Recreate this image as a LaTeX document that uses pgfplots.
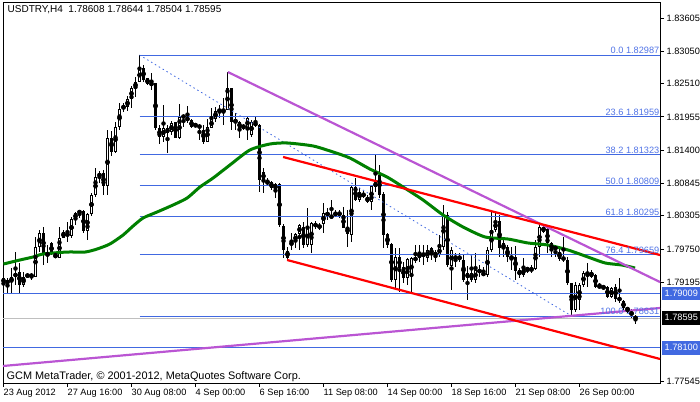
\documentclass[border=0pt]{standalone}
\usepackage{fontspec}
\setmainfont{Liberation Sans}
\usepackage{pgfplots}
\pgfplotsset{compat=1.18}
\usepackage{pgfplotstable}
\definecolor{fibblue}{RGB}{65,105,225}
\definecolor{labblue}{RGB}{80,115,230}
\definecolor{orchid}{RGB}{186,85,211}
\definecolor{magreen}{RGB}{0,128,0}
\newcommand{\lblfont}{\fontsize{9.2bp}{11bp}\selectfont}

\pgfplotstableread{
k o h l c
0 1.79265 1.79332 1.79015 1.79182
1 1.79215 1.79265 1.79015 1.79182
2 1.79198 1.79432 1.79015 1.79282
3 1.79282 1.79699 1.79148 1.79349
4 1.79365 1.79516 1.79015 1.79148
5 1.79148 1.79365 1.79115 1.79282
6 1.79299 1.79349 1.79265 1.79315
7 1.79299 1.79349 1.79232 1.79315
8 1.79282 1.79950 1.79282 1.79783
9 1.79783 1.80066 1.79699 1.80016
10 1.80016 1.80116 1.79482 1.79683
11 1.79666 1.79816 1.79516 1.79649
12 1.79850 1.79866 1.79649 1.79666
13 1.79666 1.79699 1.79599 1.79599
14 1.79599 1.80116 1.79599 1.79933
15 1.79933 1.80066 1.79933 1.80033
16 1.80016 1.80200 1.79866 1.79966
17 1.79966 1.80283 1.79933 1.80250
18 1.80250 1.80367 1.80150 1.80350
19 1.80350 1.80400 1.80267 1.80383
20 1.80383 1.80400 1.80016 1.80050
21 1.80050 1.80350 1.79900 1.80333
22 1.80333 1.80684 1.80300 1.80651
23 1.80651 1.81101 1.80617 1.80951
24 1.80951 1.81051 1.80851 1.81018
25 1.81018 1.81068 1.80651 1.80801
26 1.80801 1.81735 1.80651 1.81602
27 1.81602 1.81719 1.81301 1.81368
28 1.81368 1.81869 1.81352 1.81785
29 1.81785 1.82186 1.81735 1.82086
30 1.82102 1.82186 1.82036 1.82136
31 1.82119 1.82303 1.82052 1.82253
32 1.82253 1.82470 1.82102 1.82436
33 1.82436 1.82620 1.82286 1.82536
34 1.82536 1.82987 1.82536 1.82770
35 1.82770 1.82820 1.82536 1.82570
36 1.82603 1.82603 1.82486 1.82503
37 1.82520 1.82687 1.82403 1.82486
38 1.82520 1.82520 1.81735 1.81769
39 1.81769 1.81819 1.81502 1.81619
40 1.81619 1.82153 1.81535 1.81769
41 1.81769 1.81819 1.81352 1.81685
42 1.81702 1.81886 1.81652 1.81852
43 1.81869 1.81869 1.81602 1.81602
44 1.81602 1.82169 1.81585 1.81952
45 1.81952 1.81986 1.81785 1.81969
46 1.81952 1.82136 1.81852 1.81886
47 1.81902 1.81919 1.81769 1.81785
48 1.81802 1.81836 1.81785 1.81836
49 1.81819 1.81836 1.81568 1.81769
50 1.81735 1.81819 1.81502 1.81535
51 1.81535 1.81919 1.81535 1.81785
52 1.81769 1.82102 1.81769 1.81919
53 1.81919 1.82119 1.81869 1.82052
54 1.82069 1.82153 1.81936 1.82052
55 1.82069 1.82269 1.81819 1.82052
56 1.82069 1.82703 1.82069 1.82436
57 1.82436 1.82436 1.81735 1.81869
58 1.81902 1.82019 1.81735 1.81869
59 1.81869 1.81886 1.81602 1.81769
60 1.81785 1.81836 1.81735 1.81802
61 1.81769 1.81952 1.81568 1.81936
62 1.81652 1.81902 1.81619 1.81869
63 1.81869 1.81952 1.81785 1.81802
64 1.81819 1.81836 1.80701 1.80901
65 1.81034 1.81101 1.80684 1.80901
66 1.80868 1.80934 1.80817 1.80851
67 1.80868 1.80884 1.80734 1.80767
68 1.80734 1.80851 1.80600 1.80834
69 1.80834 1.80851 1.80116 1.80150
70 1.80133 1.80167 1.79599 1.79733
71 1.79716 1.79783 1.79566 1.79599
72 1.79816 1.80016 1.79733 1.79866
73 1.79866 1.80016 1.79766 1.80000
74 1.80000 1.80167 1.79733 1.80150
75 1.80116 1.80200 1.79766 1.79816
76 1.79816 1.80434 1.79783 1.80116
77 1.79816 1.80200 1.79683 1.80183
78 1.80183 1.80217 1.80083 1.80116
79 1.80100 1.80183 1.80066 1.80150
80 1.80167 1.80517 1.80016 1.80350
81 1.80350 1.80434 1.80233 1.80317
82 1.80283 1.80567 1.80267 1.80300
83 1.80300 1.80400 1.80283 1.80367
84 1.80367 1.80400 1.80267 1.80317
85 1.80317 1.80450 1.80100 1.80100
86 1.80116 1.80400 1.79783 1.80000
87 1.79983 1.80817 1.79866 1.80784
88 1.80784 1.80934 1.80550 1.80567
89 1.80567 1.80767 1.80534 1.80701
90 1.80684 1.80717 1.80600 1.80617
91 1.80617 1.80651 1.80517 1.80534
92 1.80534 1.80817 1.80400 1.80801
93 1.80784 1.81318 1.80701 1.80868
94 1.80984 1.81151 1.80600 1.80651
95 1.80667 1.80701 1.79766 1.79983
96 1.80000 1.80016 1.79766 1.79816
97 1.79833 1.79850 1.79198 1.79232
98 1.79232 1.79766 1.79065 1.79616
99 1.79616 1.79766 1.79031 1.79432
100 1.79449 1.79532 1.79182 1.79265
101 1.79265 1.79599 1.79148 1.79582
102 1.79299 1.79616 1.79015 1.79599
103 1.79566 1.79816 1.79516 1.79599
104 1.79599 1.79816 1.79532 1.79683
105 1.79632 1.79816 1.79482 1.79683
106 1.79599 1.79816 1.79532 1.79733
107 1.79649 1.79783 1.79566 1.79766
108 1.79683 1.79733 1.79532 1.79649
109 1.79649 1.79983 1.79616 1.79783
110 1.79783 1.80484 1.79733 1.80317
111 1.80317 1.80367 1.79449 1.79482
112 1.79466 1.79783 1.79065 1.79733
113 1.79599 1.79683 1.79449 1.79616
114 1.79616 1.79683 1.79532 1.79582
115 1.79566 1.79649 1.79198 1.79232
116 1.79349 1.79466 1.78898 1.79265
117 1.79232 1.79649 1.79198 1.79349
118 1.79232 1.79683 1.79182 1.79399
119 1.79349 1.79482 1.79282 1.79415
120 1.79349 1.79449 1.79299 1.79315
121 1.79315 1.79783 1.79282 1.79733
122 1.79733 1.80367 1.79699 1.80066
123 1.80066 1.80367 1.80033 1.80217
124 1.80217 1.80317 1.79616 1.79766
125 1.79850 1.79933 1.79616 1.79749
126 1.79783 1.79816 1.79532 1.79616
127 1.79599 1.79783 1.79399 1.79616
128 1.79616 1.79799 1.79232 1.79382
129 1.79399 1.79432 1.79265 1.79315
130 1.79315 1.79599 1.79282 1.79432
131 1.79432 1.79449 1.79349 1.79399
132 1.79382 1.79482 1.79349 1.79432
133 1.79415 1.79900 1.79399 1.79783
134 1.79783 1.80183 1.79616 1.80116
135 1.80033 1.80150 1.80016 1.80116
136 1.80083 1.80100 1.79683 1.79850
137 1.79733 1.79866 1.79616 1.79850
138 1.79783 1.79783 1.79616 1.79749
139 1.79699 1.79783 1.79549 1.79582
140 1.79616 1.79950 1.79532 1.79566
141 1.79566 1.79616 1.79148 1.79182
142 1.79182 1.79182 1.78631 1.78731
143 1.78731 1.79198 1.78698 1.79148
144 1.78898 1.79182 1.78731 1.79148
145 1.79148 1.79382 1.79115 1.79349
146 1.79332 1.79516 1.79115 1.79349
147 1.79365 1.79399 1.79265 1.79282
148 1.79315 1.79332 1.79098 1.79115
149 1.79115 1.79182 1.79098 1.79132
150 1.79115 1.79148 1.79081 1.79098
151 1.79115 1.79132 1.78931 1.78948
152 1.78948 1.79115 1.78931 1.79098
153 1.79115 1.79165 1.78865 1.78915
154 1.78898 1.79265 1.78848 1.78931
155 1.78882 1.78898 1.78731 1.78765
156 1.78765 1.78782 1.78681 1.78731
157 1.78698 1.78748 1.78598 1.78648
158 1.78608 1.78644 1.78504 1.78595
}\candles

\begin{document}
\begin{tikzpicture}
\path[use as bounding box] (-3bp,-19bp) rectangle (697bp,383bp);
\begin{axis}[
  at={(0,0)}, anchor=south west,
  scale only axis, width=657bp, height=381bp,
  xmin=-0.125, xmax=164.125,
  ymin=1.77513, ymax=1.83872,
  clip=false,
  axis line style={black, line width=0.8bp},
  tick style={black, line width=0.8bp},
  tick align=outside, major tick length=4bp,
  xtick pos=bottom, ytick pos=right, yticklabel pos=right,
  scaled y ticks=false, scaled x ticks=false,
  xtick={0,16,32,48,64,80,96,112,128,144},
  xticklabels={23 Aug 2012, 27 Aug 16:00, 30 Aug 08:00, 4 Sep 00:00, 6 Sep 16:00, 11 Sep 08:00, 14 Sep 00:00, 18 Sep 16:00, 21 Sep 08:00, 26 Sep 00:00},
  ytick={1.77545,1.79195,1.79750,1.80305,1.80845,1.81400,1.81955,1.82510,1.83050,1.83605},
  yticklabels={1.77545,1.79195,1.79750,1.80305,1.80845,1.81400,1.81955,1.82510,1.83050,1.83605},
  tick label style={font=\lblfont, text=black},
  xticklabel style={anchor=north west, inner xsep=0bp, inner ysep=1.5bp},
  yticklabel style={anchor=west, inner xsep=2.5bp},
]
% close price line
\addplot[black!25, line width=0.8bp] coordinates {(-0.125,1.78595) (164.125,1.78595)};
% candles: wicks
\addplot[only marks, mark=none, error bars/.cd, y dir=both, y explicit, error mark=none,
  error bar style={line width=1bp, draw=black}]
  table[x=k, y expr={(\thisrow{h}+\thisrow{l})/2}, y error expr={(\thisrow{h}-\thisrow{l})/2}] {\candles};
% bodies
\addplot[only marks, mark=none, error bars/.cd, y dir=both, y explicit, error mark=none,
  error bar style={line width=3.3bp, draw=black}]
  table[x=k, y expr={(\thisrow{o}+\thisrow{c})/2}, y error expr={max(abs(\thisrow{c}-\thisrow{o})/2,0.00009)}] {\candles};
% hollow bull bodies
\addplot[only marks, mark=none, error bars/.cd, y dir=both, y explicit, error mark=none,
  error bar style={line width=1.4bp, draw=white}]
  table[x=k, y expr={(\thisrow{o}+\thisrow{c})/2}, y error expr={max((\thisrow{c}-\thisrow{o})/2-0.00017,0)}] {\candles};

% horizontal lines
\addplot[fibblue, line width=0.8bp] coordinates {(-0.125,1.79009) (164.125,1.79009)};
\addplot[fibblue, line width=0.8bp] coordinates {(-0.125,1.78100) (164.125,1.78100)};
% fibonacci levels
\addplot[fibblue, line width=0.8bp] coordinates {(34,1.82987) (164.125,1.82987)};
\addplot[fibblue, line width=0.8bp] coordinates {(34,1.81959) (164.125,1.81959)};
\addplot[fibblue, line width=0.8bp] coordinates {(34,1.81323) (164.125,1.81323)};
\addplot[fibblue, line width=0.8bp] coordinates {(34,1.80809) (164.125,1.80809)};
\addplot[fibblue, line width=0.8bp] coordinates {(34,1.80295) (164.125,1.80295)};
\addplot[fibblue, line width=0.8bp] coordinates {(34,1.79659) (164.125,1.79659)};
\addplot[fibblue, line width=0.8bp] coordinates {(34,1.78631) (164.125,1.78631)};
\addplot[fibblue, line width=0.8bp, dash pattern=on 1.5bp off 3bp] coordinates {(34,1.82987) (142,1.78631)};

% moving average
\addplot[magreen, line width=3bp, smooth, tension=0.4] coordinates {
(0,1.79499) (4.1,1.79566) (7.4,1.79616) (9.9,1.79666) (15.9,1.79699) (20.4,1.79699)
(23.4,1.79749) (26.6,1.79833) (29.9,1.79983) (32.4,1.80133) (34.9,1.80267) (38.4,1.80367)
(42.4,1.80484) (45.9,1.80600) (49.1,1.80784) (52.4,1.80934) (56.6,1.81151) (61.6,1.81402)
(66.6,1.81502) (70.9,1.81519) (77.4,1.81469) (82.4,1.81368) (86.6,1.81268) (91.6,1.81084)
(95.9,1.80951) (99.9,1.80784) (104.9,1.80567) (109.9,1.80317) (114.9,1.80116) (120.4,1.79950)
(126.1,1.79916) (131.1,1.79850) (136.1,1.79816) (141.1,1.79733) (146.1,1.79616) (150.4,1.79516)
(154.6,1.79482) (157.9,1.79432)};

% trend lines
\addplot[orchid, line width=2.2bp] coordinates {(56.1,1.82703) (164.125,1.79198)};
\addplot[orchid, line width=2.2bp] coordinates {(-0.125,1.77797) (164.125,1.78765)};
\addplot[red, line width=2.2bp] coordinates {(69.9,1.81285) (164.125,1.79649)};
\addplot[red, line width=2.2bp] coordinates {(70.9,1.79566) (164.125,1.77914)};

% fib labels
\begin{scope}[every node/.style={anchor=south east, text=labblue, font=\lblfont, inner xsep=0.5bp, inner ysep=0.8bp}]
\node at (axis cs:164.125,1.82987) {0.0 1.82987};
\node at (axis cs:164.125,1.81959) {23.6 1.81959};
\node at (axis cs:164.125,1.81323) {38.2 1.81323};
\node at (axis cs:164.125,1.80809) {50.0 1.80809};
\node at (axis cs:164.125,1.80295) {61.8 1.80295};
\node at (axis cs:164.125,1.79659) {76.4 1.79659};
\node at (axis cs:164.125,1.78631) {100.0 1.78631};
\end{scope}

% right axis highlighted labels
\begin{scope}[every node/.style={anchor=west, text=white, font=\lblfont, inner xsep=2.5bp, inner ysep=2.5bp, text height=7bp, text depth=1.5bp, xshift=2bp}]
\node[fill=fibblue] at (axis cs:164.125,1.79009) {1.79009};
\node[fill=black] at (axis cs:164.125,1.78595) {1.78595};
\node[fill=fibblue] at (axis cs:164.125,1.78100) {1.78100};
\end{scope}

% texts
\node[anchor=west, font=\fontsize{10bp}{12bp}\selectfont, inner sep=0pt] at (rel axis cs:0,1) [xshift=4.5bp, yshift=-8bp] {USDTRY,H4\ \ 1.78608 1.78644 1.78504 1.78595};
\node[anchor=west, font=\fontsize{10.9bp}{12bp}\selectfont, inner sep=0pt] at (rel axis cs:0,0) [xshift=3.5bp, yshift=6bp] {GCM MetaTrader, © 2001-2012, MetaQuotes Software Corp.};
\end{axis}
\end{tikzpicture}
\end{document}
